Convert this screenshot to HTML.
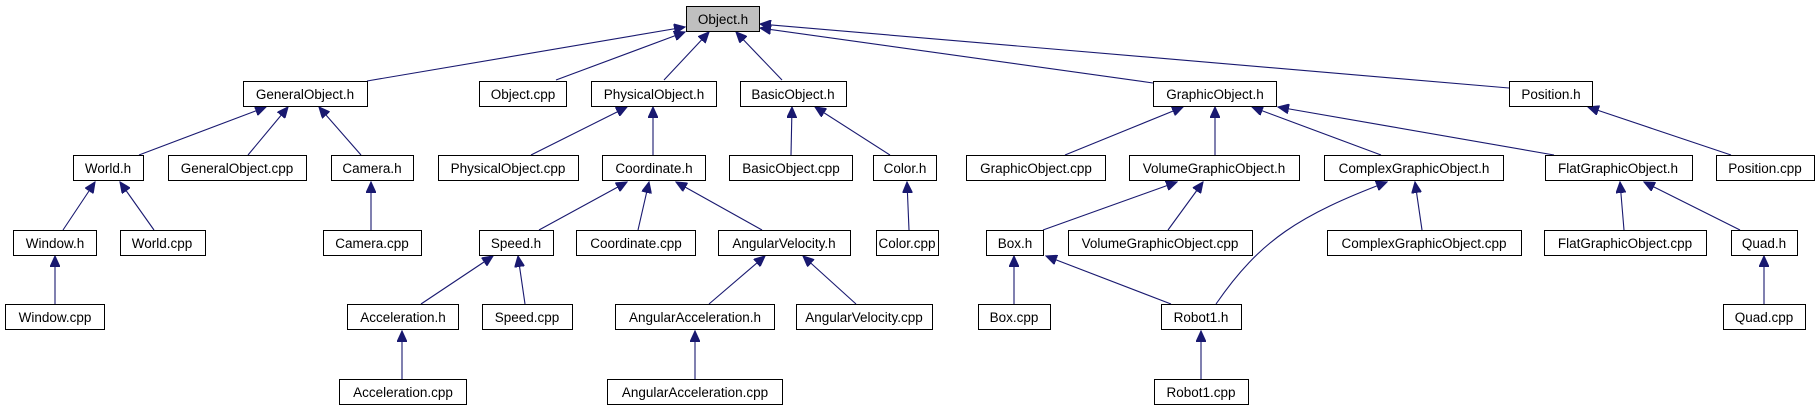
<!DOCTYPE html>
<html><head><meta charset="utf-8"><style>
html,body{margin:0;padding:0;background:#fff;}
svg{display:block;}
text{font-family:"Liberation Sans",sans-serif;font-size:13.5px;text-anchor:middle;fill:#000;}
rect{fill:#fff;stroke:#000;stroke-width:1;}
line,path{stroke:#191970;stroke-width:1.1;fill:none;}
</style></head><body>
<svg width="1820" height="411" viewBox="0 0 1820 411" xmlns="http://www.w3.org/2000/svg">
<defs><marker id="a" markerUnits="userSpaceOnUse" markerWidth="12" markerHeight="10" refX="11" refY="5" orient="auto"><path d="M0,0 L11,5 L0,10 Z" style="fill:#191970;stroke:#191970"/></marker></defs>
<g marker-end="url(#a)">
<line x1="367" y1="81" x2="685" y2="27"/>
<line x1="556" y1="80" x2="685" y2="32"/>
<line x1="664" y1="80" x2="709" y2="32"/>
<line x1="782" y1="80" x2="736" y2="32"/>
<line x1="1153" y1="83" x2="760" y2="28"/>
<line x1="1509" y1="88" x2="760" y2="24"/>
<line x1="139" y1="155" x2="266" y2="107"/>
<line x1="248" y1="155" x2="288" y2="107"/>
<line x1="361" y1="155" x2="319" y2="107"/>
<line x1="531" y1="155" x2="627" y2="107"/>
<line x1="653" y1="155" x2="653" y2="107"/>
<line x1="791" y1="155" x2="792" y2="107"/>
<line x1="890" y1="155" x2="815" y2="107"/>
<line x1="63" y1="230" x2="95" y2="182"/>
<line x1="154" y1="230" x2="120" y2="182"/>
<line x1="371" y1="230" x2="371" y2="182"/>
<line x1="539" y1="230" x2="627" y2="182"/>
<line x1="638" y1="230" x2="649" y2="182"/>
<line x1="762" y1="230" x2="676" y2="182"/>
<line x1="909" y1="230" x2="907" y2="182"/>
<line x1="55" y1="304" x2="55" y2="256"/>
<line x1="421" y1="304" x2="493" y2="256"/>
<line x1="525" y1="304" x2="518" y2="256"/>
<line x1="709" y1="304" x2="765" y2="256"/>
<line x1="856" y1="304" x2="803" y2="256"/>
<line x1="402" y1="379" x2="402" y2="331"/>
<line x1="695" y1="379" x2="695" y2="331"/>
<line x1="1065" y1="155" x2="1183" y2="107"/>
<line x1="1215" y1="155" x2="1215" y2="107"/>
<line x1="1381" y1="155" x2="1252" y2="107"/>
<line x1="1554" y1="155" x2="1278" y2="107"/>
<line x1="1731" y1="155" x2="1588" y2="107"/>
<line x1="1043" y1="230" x2="1177" y2="182"/>
<line x1="1168" y1="230" x2="1203" y2="182"/>
<line x1="1422" y1="230" x2="1415" y2="182"/>
<path d="M1216,304 C1260,240 1300,215 1387,182"/>
<line x1="1624" y1="230" x2="1620" y2="182"/>
<line x1="1740" y1="230" x2="1644" y2="182"/>
<line x1="1014" y1="304" x2="1014" y2="256"/>
<line x1="1171" y1="304" x2="1046" y2="256"/>
<line x1="1764" y1="304" x2="1764" y2="256"/>
<line x1="1201" y1="379" x2="1201" y2="331"/>
</g>
<g>
<rect x="686.5" y="6.5" width="73" height="25" style="fill:#bfbfbf"/><text x="723" y="24">Object.h</text>
<rect x="243.5" y="81.5" width="124" height="25"/><text x="305" y="99">GeneralObject.h</text>
<rect x="479.5" y="81.5" width="87" height="25"/><text x="523" y="99">Object.cpp</text>
<rect x="591.5" y="81.5" width="125" height="25"/><text x="654" y="99">PhysicalObject.h</text>
<rect x="740.5" y="81.5" width="106" height="25"/><text x="793" y="99">BasicObject.h</text>
<rect x="1153.5" y="81.5" width="123" height="25"/><text x="1215" y="99">GraphicObject.h</text>
<rect x="1509.5" y="81.5" width="83" height="25"/><text x="1551" y="99">Position.h</text>
<rect x="73.5" y="155.5" width="70" height="25"/><text x="108" y="173">World.h</text>
<rect x="168.5" y="155.5" width="138" height="25"/><text x="237" y="173">GeneralObject.cpp</text>
<rect x="331.5" y="155.5" width="82" height="25"/><text x="372" y="173">Camera.h</text>
<rect x="438.5" y="155.5" width="140" height="25"/><text x="508" y="173">PhysicalObject.cpp</text>
<rect x="602.5" y="155.5" width="103" height="25"/><text x="654" y="173">Coordinate.h</text>
<rect x="729.5" y="155.5" width="123" height="25"/><text x="791" y="173">BasicObject.cpp</text>
<rect x="873.5" y="155.5" width="63" height="25"/><text x="905" y="173">Color.h</text>
<rect x="966.5" y="155.5" width="139" height="25"/><text x="1036" y="173">GraphicObject.cpp</text>
<rect x="1129.5" y="155.5" width="170" height="25"/><text x="1214" y="173">VolumeGraphicObject.h</text>
<rect x="1324.5" y="155.5" width="179" height="25"/><text x="1414" y="173">ComplexGraphicObject.h</text>
<rect x="1545.5" y="155.5" width="147" height="25"/><text x="1618" y="173">FlatGraphicObject.h</text>
<rect x="1716.5" y="155.5" width="98" height="25"/><text x="1765" y="173">Position.cpp</text>
<rect x="13.5" y="230.5" width="83" height="25"/><text x="55" y="248">Window.h</text>
<rect x="120.5" y="230.5" width="85" height="25"/><text x="162" y="248">World.cpp</text>
<rect x="323.5" y="230.5" width="98" height="25"/><text x="372" y="248">Camera.cpp</text>
<rect x="479.5" y="230.5" width="74" height="25"/><text x="516" y="248">Speed.h</text>
<rect x="576.5" y="230.5" width="119" height="25"/><text x="636" y="248">Coordinate.cpp</text>
<rect x="718.5" y="230.5" width="132" height="25"/><text x="784" y="248">AngularVelocity.h</text>
<rect x="876.5" y="230.5" width="62" height="25"/><text x="907" y="248">Color.cpp</text>
<rect x="986.5" y="230.5" width="57" height="25"/><text x="1015" y="248">Box.h</text>
<rect x="1068.5" y="230.5" width="184" height="25"/><text x="1160" y="248">VolumeGraphicObject.cpp</text>
<rect x="1327.5" y="230.5" width="194" height="25"/><text x="1424" y="248">ComplexGraphicObject.cpp</text>
<rect x="1544.5" y="230.5" width="162" height="25"/><text x="1625" y="248">FlatGraphicObject.cpp</text>
<rect x="1731.5" y="230.5" width="66" height="25"/><text x="1764" y="248">Quad.h</text>
<rect x="5.5" y="304.5" width="99" height="25"/><text x="55" y="322">Window.cpp</text>
<rect x="347.5" y="304.5" width="111" height="25"/><text x="403" y="322">Acceleration.h</text>
<rect x="482.5" y="304.5" width="90" height="25"/><text x="527" y="322">Speed.cpp</text>
<rect x="615.5" y="304.5" width="159" height="25"/><text x="695" y="322">AngularAcceleration.h</text>
<rect x="796.5" y="304.5" width="136" height="25"/><text x="864" y="322">AngularVelocity.cpp</text>
<rect x="978.5" y="304.5" width="72" height="25"/><text x="1014" y="322">Box.cpp</text>
<rect x="1161.5" y="304.5" width="80" height="25"/><text x="1201" y="322">Robot1.h</text>
<rect x="1723.5" y="304.5" width="82" height="25"/><text x="1764" y="322">Quad.cpp</text>
<rect x="339.5" y="379.5" width="127" height="25"/><text x="403" y="397">Acceleration.cpp</text>
<rect x="607.5" y="379.5" width="175" height="25"/><text x="695" y="397">AngularAcceleration.cpp</text>
<rect x="1154.5" y="379.5" width="94" height="25"/><text x="1201" y="397">Robot1.cpp</text>
</g>
</svg>
</body></html>
